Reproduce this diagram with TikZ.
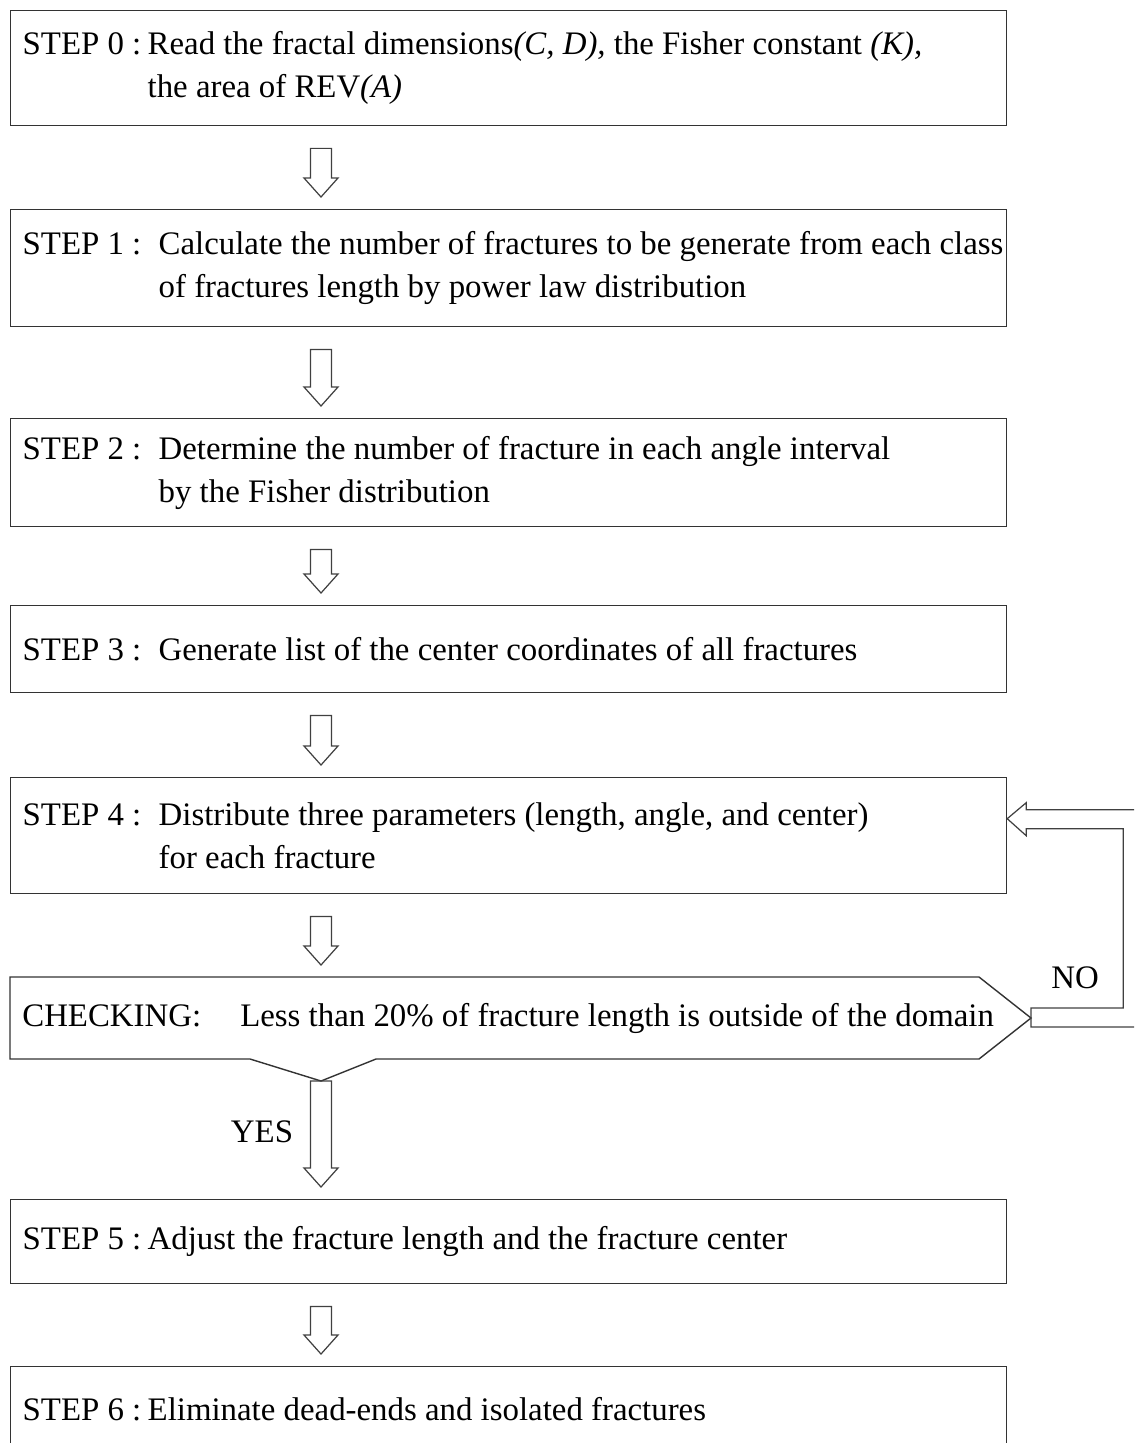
\documentclass[tikz,border=0pt]{standalone}
\usepackage{fontspec}
\setmainfont{Liberation Serif}
\usetikzlibrary{calc}

% one line of a step: label column, then its text
\newcommand{\stepline}[3]{\mbox{\spaceskip=0pt\xspaceskip=0pt\makebox[#1][l]{#2}#3}}
% hollow block arrow pointing down, at the x of (ax)
\newcommand{\hollowdown}[3][22]{%
  \path (ax |- #2) ++(0,#1) coordinate (t) (ax |- #3) ++(0,-12) coordinate (b);
  \draw[blockarr] ($(t)+(-10.5,0)$) -- ($(t)+(10.5,0)$) -- ($(b)+(10.5,-19)$)
    -- ($(b)+(17,-19)$) -- (b) -- ($(b)+(-17,-19)$) -- ($(b)+(-10.5,-19)$) -- cycle;}

\begin{document}
\begin{tikzpicture}[x=0.02cm, y=-0.02cm,
  every node/.style={font=\fontsize{18.7}{24.5}\selectfont},
  stepbox/.style={draw=black!80, line width=0.8pt, anchor=north west, align=left,
    text width=19.44cm, inner xsep=0.24cm, inner ysep=0pt},
  blockarr/.style={draw=black!75, line width=0.7pt, line join=miter}]
  \clip (0,0) rectangle (1134,1443);
  \coordinate (ax) at (321,0);

  \node[stepbox, minimum height=2.3cm] (s0) at (10,10)
    {\stepline{2.5cm}{STEP 0 :}{Read the fractal dimensions\textit{(C, D),} the Fisher constant \textit{(K),}}\\
     \stepline{2.5cm}{}{the area of REV\textit{(A)}}};
  \node[stepbox, minimum height=2.34cm] (s1) at (10,209)
    {\stepline{2.72cm}{STEP 1 :}{Calculate the number of fractures to be generate from each class}\\
     \stepline{2.72cm}{}{of fractures length by power law distribution}};
  \node[stepbox, minimum height=2.16cm] (s2) at (10,418)
    {\stepline{2.72cm}{STEP 2 :}{Determine the number of fracture in each angle interval}\\
     \stepline{2.72cm}{}{by the Fisher distribution}};
  \node[stepbox, minimum height=1.74cm] (s3) at (10,605)
    {\stepline{2.72cm}{STEP 3 :}{Generate list of the center coordinates of all fractures}};
  \node[stepbox, minimum height=2.32cm] (s4) at (10,777)
    {\stepline{2.72cm}{STEP 4 :}{Distribute three parameters (length, angle, and center)}\\
     \stepline{2.72cm}{}{for each fracture}};

  % checking
  \draw[draw=black!80, line width=0.8pt] (10,977) coordinate (ctop) -- (979,977)
    -- (1031,1018) coordinate (ctip) -- (979,1059) -- (376,1059)
    -- (321,1081) coordinate (vtip) -- (250,1059) -- (10,1059) -- cycle;
  \node[anchor=west, inner xsep=0.24cm] (chk) at (10,1018)
    {\stepline{4.36cm}{CHECKING:}{Less than 20\% of fracture length is outside of the domain}};

  \node[stepbox, minimum height=1.68cm] (s5) at (10,1199)
    {\stepline{2.5cm}{STEP 5 :}{Adjust the fracture length and the fracture center}};
  \node[stepbox, minimum height=1.68cm] (s6) at (10,1366)
    {\stepline{2.5cm}{STEP 6 :}{Eliminate dead-ends and isolated fractures}};

  \hollowdown{s0.south}{s1.north}
  \hollowdown{s1.south}{s2.north}
  \hollowdown{s2.south}{s3.north}
  \hollowdown{s3.south}{s4.north}
  \hollowdown{s4.south}{ctop}
  \hollowdown[0]{vtip}{s5.north}
  \hollowdown{s5.south}{s6.north}

  % NO loop back to step 4
  \coordinate (ntip) at ($(s4.east)+(0,-17)$);
  \draw[blockarr] ($(ntip)+(134,-9)$) -- ++(-115,0) -- ++(0,-7) -- (ntip) -- ++(19,17)
    -- ++(0,-7) -- ++(97,0) |- ($(ctip)+(0,-10)$) -- ++(0,19) -- ++(109,0);

  \node (yes) at (262,1132) {YES};
  \node (no) at (1075,978) {NO};
\end{tikzpicture}
\end{document}
